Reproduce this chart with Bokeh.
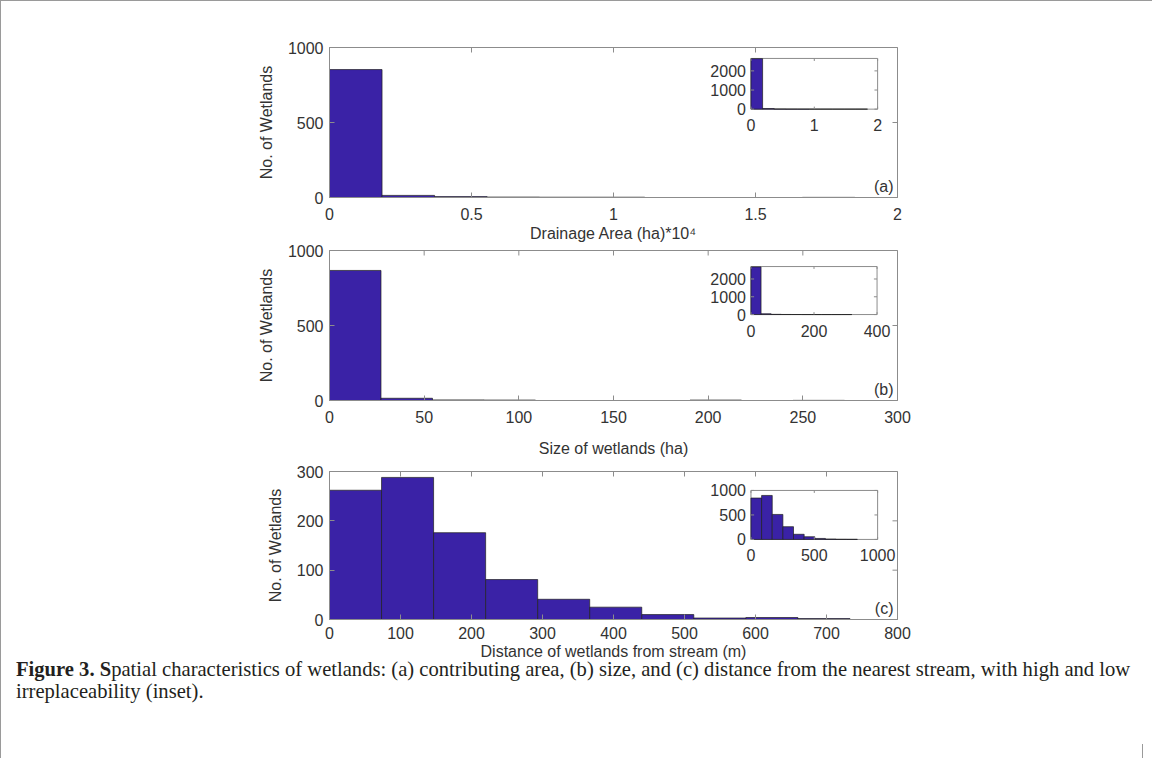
from bokeh.plotting import figure
from bokeh.models import Range1d, FixedTicker, CustomJSTickFormatter, Div
from bokeh.layouts import column
from bokeh.embed import file_html
from bokeh.resources import INLINE
from bokeh.core.properties import value

# ---------------- data ----------------
# (a) drainage area (ha) * 10^4
a_edges = [0.0, 0.185, 0.37, 0.555, 0.74, 0.925, 1.11, 1.295, 1.48, 1.665, 1.85]
a_counts = [853, 14, 6, 3, 2, 2, 0, 0, 0, 1]
a_in_edges = [0.0, 0.184, 0.368, 0.552, 0.736, 0.92, 1.104, 1.288, 1.472, 1.656, 1.84]
a_in_counts = [2640, 30, 8, 3, 2, 1, 1, 0, 0, 1]

# (b) size of wetlands (ha)
b_edges = [0, 27.2, 54.4, 81.6, 108.8, 136, 163.2, 190.4, 217.6, 244.8, 272]
b_counts = [867, 15, 4, 3, 0, 0, 0, 3, 0, 1]
b_in_edges = [0, 32, 64, 96, 128, 160, 192, 224, 256, 288, 320]
b_in_counts = [2680, 45, 12, 4, 2, 1, 0, 0, 0, 1]

# (c) distance of wetlands from stream (m)
c_edges = [0, 73.3, 146.6, 219.9, 293.2, 366.5, 439.8, 513.1, 586.4, 659.7, 733]
c_counts = [262, 288, 176, 81, 41, 25, 10, 3, 4, 2]
c_in_edges = [0, 84, 168, 252, 336, 420, 504, 588, 672, 756, 840]
c_in_counts = [845, 898, 510, 260, 105, 55, 20, 8, 3, 2]

a_xticks = [0, 0.5, 1, 1.5, 2]
a_yticks = [0, 500, 1000]
a_in_xticks = [0, 1, 2]
a_in_yticks = [0, 1000, 2000]
b_xticks = [0, 50, 100, 150, 200, 250, 300]
b_yticks = [0, 500, 1000]
b_in_xticks = [0, 200, 400]
b_in_yticks = [0, 1000, 2000]
c_xticks = [0, 100, 200, 300, 400, 500, 600, 700, 800]
c_yticks = [0, 100, 200, 300]
c_in_xticks = [0, 500, 1000]
c_in_yticks = [0, 500, 1000]

YLABEL = "No. of Wetlands"
CAPTION_BOLD = "Figure 3. S"
CAPTION_REST = ("patial characteristics of wetlands: (a) contributing area, (b) size, and (c) "
                "distance from the nearest stream, with high and low<br>irreplaceability (inset).")

# ---------------- style ----------------
FONT = "Liberation Sans"
FS = "16px"
TXT = "#333333"
AX = "#8c8c8c"
BAR = "#3a22a6"
EDGE = "#202020"
W = 1150
FRAME_LEFT = 328
FRAME_W = 568
FMT = CustomJSTickFormatter(code="return String(tick);")


def style_axis(ax, ticks, label_standoff, axis_label_standoff):
    ax.ticker = FixedTicker(ticks=ticks)
    ax.formatter = FMT
    ax.major_tick_in = 5
    ax.major_tick_out = 0
    ax.minor_tick_in = 0
    ax.minor_tick_out = 0
    ax.axis_line_color = AX
    ax.major_tick_line_color = AX
    ax.major_label_text_font = FONT
    ax.major_label_text_color = TXT
    ax.major_label_text_font_size = FS
    ax.major_label_standoff = label_standoff
    ax.axis_label_text_font = FONT
    ax.axis_label_text_color = TXT
    ax.axis_label_text_font_size = FS
    ax.axis_label_text_font_style = "normal"
    ax.axis_label_standoff = axis_label_standoff


def panel(edges, counts, xr, yr, xticks, yticks, xlabel, tag,
          in_edges, in_counts, in_xr, in_yr, in_xticks, in_yticks,
          height, top, frame_h, inset_frac, x_std, xl_std, yl_std):
    p = figure(width=W, height=height, x_range=Range1d(*xr), y_range=Range1d(*yr),
               output_backend="svg", toolbar_location=None,
               min_border_left=FRAME_LEFT, min_border_right=W - FRAME_LEFT - FRAME_W,
               min_border_top=top, min_border_bottom=height - top - frame_h)
    p.xgrid.visible = False
    p.ygrid.visible = False
    p.outline_line_color = AX
    p.background_fill_color = "white"
    p.border_fill_color = "white"

    p.xaxis.axis_label = xlabel
    p.yaxis.axis_label = YLABEL
    style_axis(p.xaxis[0], xticks, x_std, xl_std)
    style_axis(p.yaxis[0], yticks, 6, yl_std)

    p.quad(left=edges[:-1], right=edges[1:], bottom=0, top=counts,
           fill_color=BAR, line_color=EDGE, line_width=0.7)

    # inward ticks on the top and right edges (half of each dash is clipped by the frame)
    p.scatter(x=xticks, y=[yr[1]] * len(xticks), marker="dash", angle=1.5707963,
              size=10, line_color=AX, line_width=1)
    p.scatter(x=[xr[1]] * len(yticks), y=yticks, marker="dash",
              size=10, line_color=AX, line_width=1)

    p.text(x=[xr[1]], y=[yr[0]], text=[tag], x_offset=-4, y_offset=-3,
           text_align="right", text_baseline="bottom",
           text_font=value(FONT), text_font_size=FS, text_color=TXT)

    # inset placed in a sub-coordinate system of the panel
    fx0, fx1, fy0, fy1 = inset_frac
    xs = xr[1] - xr[0]
    ys = yr[1] - yr[0]
    sub = p.subplot(
        x_source=Range1d(*in_xr), y_source=Range1d(*in_yr),
        x_target=Range1d(xr[0] + fx0 * xs, xr[0] + fx1 * xs),
        y_target=Range1d(yr[0] + fy0 * ys, yr[0] + fy1 * ys),
    )
    sub.quad(left=[in_xr[0]], right=[in_xr[1]], bottom=[in_yr[0]], top=[in_yr[1]],
             fill_color="white", line_color=AX, line_width=1)
    sub.quad(left=in_edges[:-1], right=in_edges[1:], bottom=0, top=in_counts,
             fill_color=BAR, line_color=EDGE, line_width=0.7)
    tx = 0.05 * (in_yr[1] - in_yr[0])
    ty = 0.025 * (in_xr[1] - in_xr[0])
    sub.segment(x0=in_xticks, y0=[in_yr[0]] * len(in_xticks), x1=in_xticks,
                y1=[in_yr[0] + tx] * len(in_xticks), line_color=AX)
    sub.segment(x0=in_xticks, y0=[in_yr[1]] * len(in_xticks), x1=in_xticks,
                y1=[in_yr[1] - tx] * len(in_xticks), line_color=AX)
    sub.segment(x0=[in_xr[0]] * len(in_yticks), y0=in_yticks,
                x1=[in_xr[0] + ty] * len(in_yticks), y1=in_yticks, line_color=AX)
    sub.segment(x0=[in_xr[1]] * len(in_yticks), y0=in_yticks,
                x1=[in_xr[1] - ty] * len(in_yticks), y1=in_yticks, line_color=AX)
    sub.text(x=in_xticks, y=[in_yr[0]] * len(in_xticks), text=[str(t) for t in in_xticks],
             y_offset=10, text_align="center", text_baseline="top",
             text_font=value(FONT), text_font_size=FS, text_color=TXT)
    sub.text(x=[in_xr[0]] * len(in_yticks), y=in_yticks, text=[str(t) for t in in_yticks],
             x_offset=-5, text_align="right", text_baseline="middle",
             text_font=value(FONT), text_font_size=FS, text_color=TXT)
    return p


pa = panel(a_edges, a_counts, (0, 2), (0, 1000), a_xticks, a_yticks,
           "Drainage Area (ha)*10\u2074", "(a)",
           a_in_edges, a_in_counts, (0, 2), (0, 2650), a_in_xticks, a_in_yticks,
           height=243, top=46, frame_h=151, inset_frac=(0.742, 0.965, 0.589, 0.927),
           x_std=10, xl_std=2, yl_std=10)
pb = panel(b_edges, b_counts, (0, 300), (0, 1000), b_xticks, b_yticks,
           "Size of wetlands (ha)", "(b)",
           b_in_edges, b_in_counts, (0, 400), (0, 2700), b_in_xticks, b_in_yticks,
           height=217, top=6, frame_h=150, inset_frac=(0.742, 0.964, 0.573, 0.893),
           x_std=10, xl_std=14, yl_std=10)
pc = panel(c_edges, c_counts, (0, 800), (0, 300), c_xticks, c_yticks,
           "Distance of wetlands from stream (m)", "(c)",
           c_in_edges, c_in_counts, (0, 1000), (0, 1000), c_in_xticks, c_in_yticks,
           height=204, top=10, frame_h=148, inset_frac=(0.742, 0.965, 0.541, 0.872),
           x_std=7, xl_std=1, yl_std=10)

cap = Div(text=('<div style="position:relative;font-family:\'Liberation Serif\',serif;font-size:20.6px;'
                'line-height:22px;color:#231f20;padding-left:10px;margin-top:-12px;white-space:nowrap;">'
                '<b>' + CAPTION_BOLD + '</b>' + CAPTION_REST +
                '<div style="position:absolute;left:1136px;top:86px;width:0;height:30px;'
                'border-left:1px solid #9a9a9a;"></div></div>'),
          width=W, height=92)

layout = column(pa, pb, pc, cap,
                styles={"border-left": "1px solid #9a9a9a", "border-top": "1px solid #9a9a9a",
                        "background": "white"})

open("out.html", "w").write(file_html(layout, INLINE))
